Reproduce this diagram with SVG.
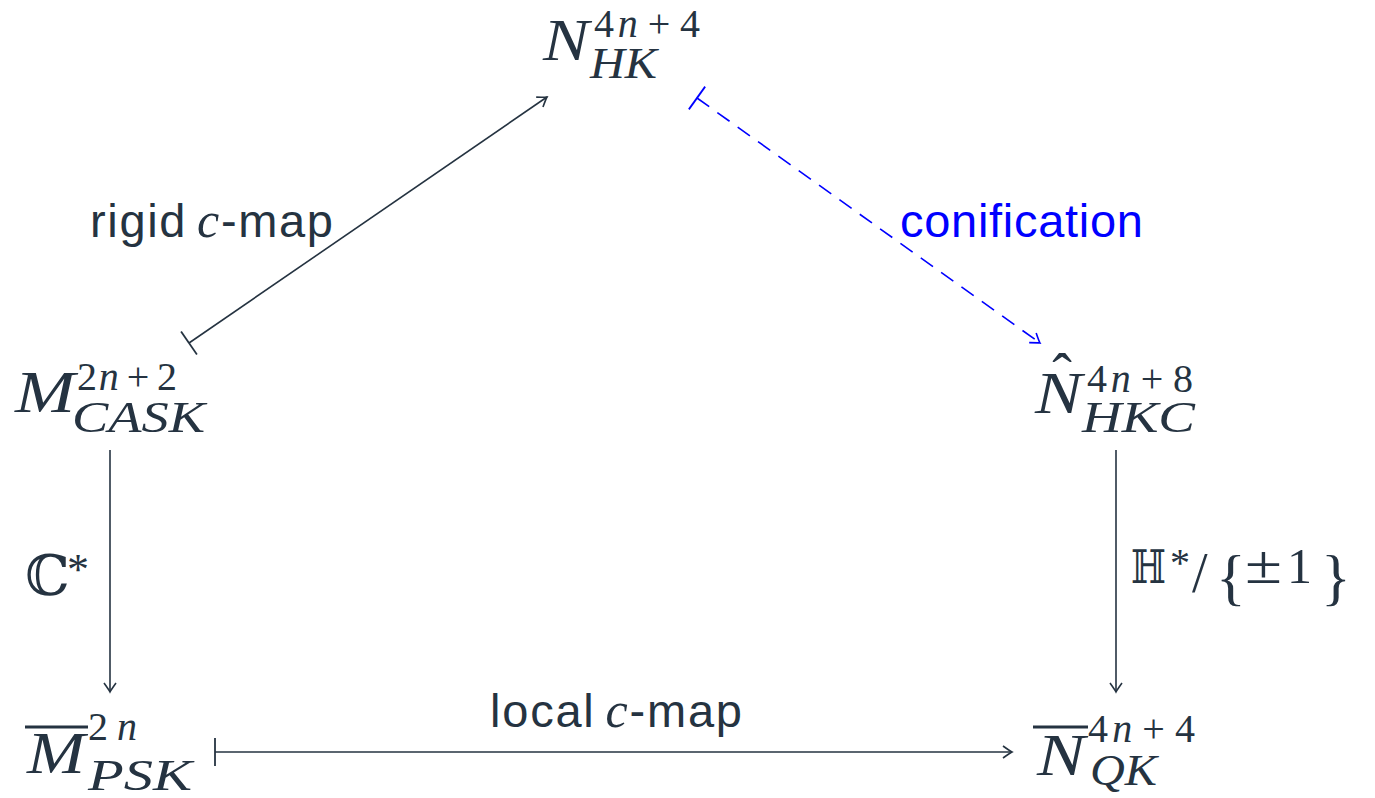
<svg xmlns="http://www.w3.org/2000/svg" width="1375" height="798" viewBox="0 0 1375 798">
<style>
.m{font-family:"Liberation Serif","DejaVu Serif",serif;fill:#253341}
.i{font-style:italic}
.big{font-size:59px}
.sup{font-size:40px}
.sub{font-size:44px}
.lab{font-family:"Liberation Sans",Arial,sans-serif;font-size:47px;fill:#253341}
.bb{font-family:"DejaVu Serif","DejaVu Sans",serif;fill:#253341}
.e{fill:none;stroke:#253341;stroke-width:1.6}
.eb{fill:none;stroke:#0000ff;stroke-width:1.6;stroke-dasharray:15 10}
.ov{stroke:#253341;stroke-width:3}
</style>
<defs>
<marker id="ar" markerUnits="userSpaceOnUse" markerWidth="20" markerHeight="20" refX="0" refY="0" viewBox="-10 -10 20 20" orient="auto" overflow="visible">
<path d="M-9,-6 Q-2,-1 0,0 Q-2,1 -9,6" fill="none" stroke="#253341" stroke-width="1.6"/>
</marker>
<marker id="arb" markerUnits="userSpaceOnUse" markerWidth="20" markerHeight="20" refX="0" refY="0" viewBox="-10 -10 20 20" orient="auto" overflow="visible">
<path d="M-9,-6 Q-2,-1 0,0 Q-2,1 -9,6" fill="none" stroke="#0000ff" stroke-width="1.6"/>
</marker>
<marker id="tee" markerUnits="userSpaceOnUse" markerWidth="32" markerHeight="32" refX="0" refY="0" viewBox="-16 -16 32 32" orient="auto" overflow="visible">
<path d="M0,-14 L0,14" fill="none" stroke="#253341" stroke-width="1.8"/>
</marker>
<marker id="teeb" markerUnits="userSpaceOnUse" markerWidth="32" markerHeight="32" refX="0" refY="0" viewBox="-16 -16 32 32" orient="auto" overflow="visible">
<path d="M0,-14 L0,14" fill="none" stroke="#0000ff" stroke-width="1.8"/>
</marker>
</defs>

<g id="connectors">
<line class="e" x1="189" y1="343" x2="547" y2="97" marker-start="url(#tee)" marker-end="url(#ar)"/>
<line class="eb" x1="697" y1="98" x2="1040" y2="343" marker-start="url(#teeb)" marker-end="url(#arb)"/>
<line class="e" x1="110" y1="450" x2="110" y2="692" marker-end="url(#ar)"/>
<line class="e" x1="1116" y1="450" x2="1116" y2="692" marker-end="url(#ar)"/>
<line class="e" x1="215" y1="752" x2="1012" y2="752" marker-start="url(#tee)" marker-end="url(#ar)"/>
</g>

<g id="labels">
<text class="lab" x="90" y="237" textLength="243">rigid<tspan class="m i" font-size="50" dx="10">c</tspan>-map</text>
<text class="lab" x="900" y="237" style="fill:#0000ff" textLength="243">conification</text>
<text class="lab" x="490" y="727" textLength="252">local<tspan class="m i" font-size="50" dx="10">c</tspan>-map</text>
<g id="lab-C">
<text class="bb" x="25" y="595" font-size="56">ℂ</text>
<text class="m" x="67" y="584" font-size="44">*</text>
</g>
<g id="lab-H">
<text class="bb" x="1131" y="583" font-size="46" textLength="35" lengthAdjust="spacingAndGlyphs">ℍ</text>
<text class="m" x="1170" y="576" font-size="40">*</text>
<text class="m" x="1192" y="592" font-size="56">/</text>
<text class="m" x="1216" y="598" font-size="62">{</text>
<text class="m" x="1245" y="583" font-size="54" textLength="37" lengthAdjust="spacingAndGlyphs">±</text>
<text class="m" x="1287" y="583" font-size="50">1</text>
<text class="m" x="1321" y="598" font-size="62">}</text>
</g>
</g>

<g id="N_HK">
<text class="m i big" x="543" y="60" textLength="46" lengthAdjust="spacingAndGlyphs">N</text>
<text class="m sup" x="594" y="37" textLength="106">4<tspan class="i">n</tspan><tspan dx="6">+</tspan><tspan dx="6">4</tspan></text>
<text class="m i sub" x="590" y="78" textLength="67" lengthAdjust="spacingAndGlyphs">HK</text>
</g>

<g id="M_CASK">
<text class="m i big" x="15" y="412" textLength="60" lengthAdjust="spacingAndGlyphs">M</text>
<text class="m sup" x="77" y="390" textLength="100">2<tspan class="i">n</tspan><tspan dx="6">+</tspan><tspan dx="6">2</tspan></text>
<text class="m i sub" x="72" y="432" textLength="133" lengthAdjust="spacingAndGlyphs">CASK</text>
</g>

<g id="N_HKC">
<text class="m i big" x="1035" y="413" textLength="47" lengthAdjust="spacingAndGlyphs">N</text>
<text class="m big" x="1062" y="394" text-anchor="middle">ˆ</text>
<text class="m sup" x="1087" y="392" textLength="106">4<tspan class="i">n</tspan><tspan dx="6">+</tspan><tspan dx="6">8</tspan></text>
<text class="m i sub" x="1082" y="432" textLength="113" lengthAdjust="spacingAndGlyphs">HKC</text>
</g>

<g id="M_PSK">
<line class="ov" x1="25" y1="727" x2="88" y2="727"/>
<text class="m i big" x="27" y="773" textLength="58" lengthAdjust="spacingAndGlyphs">M</text>
<text class="m sup" x="88" y="740" textLength="49">2<tspan class="i">n</tspan></text>
<text class="m i sub" x="88" y="790" textLength="104" lengthAdjust="spacingAndGlyphs">PSK</text>
</g>

<g id="N_QK">
<line class="ov" x1="1033" y1="727" x2="1088" y2="727"/>
<text class="m i big" x="1037" y="775" textLength="48" lengthAdjust="spacingAndGlyphs">N</text>
<text class="m sup" x="1088" y="742" textLength="107">4<tspan class="i">n</tspan><tspan dx="6">+</tspan><tspan dx="6">4</tspan></text>
<text class="m i sub" x="1090" y="785" textLength="67" lengthAdjust="spacingAndGlyphs">QK</text>
</g>
</svg>
